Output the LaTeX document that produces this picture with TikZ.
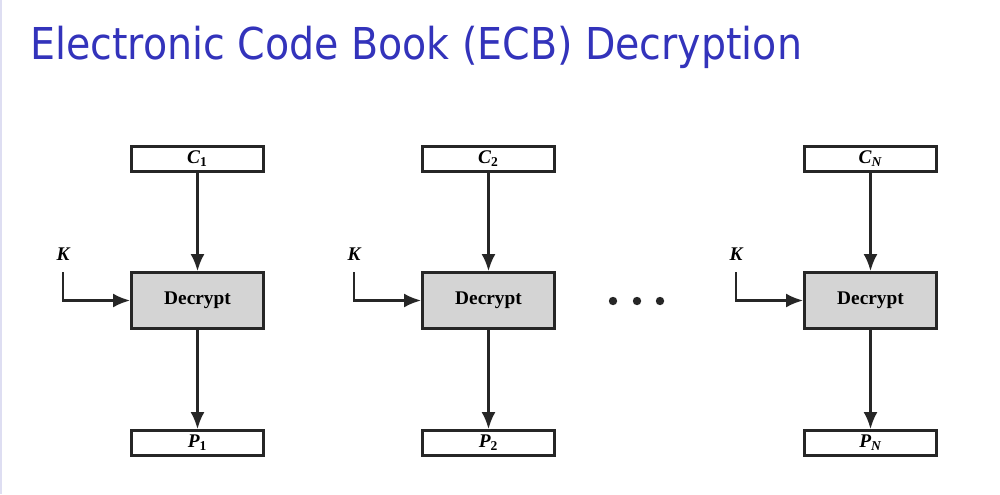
\documentclass[tikz,border=0pt]{standalone}
\usepackage{fontspec}
\setmainfont{Liberation Serif}
\newfontfamily\titlefont{DejaVu Sans Condensed}
\usetikzlibrary{arrows.meta}
\definecolor{titleblue}{RGB}{51,51,187}
\definecolor{boxgray}{RGB}{212,212,212}
\definecolor{edgelilac}{RGB}{222,222,242}
\tikzset{
	blockbox/.style={draw=black!85, line width=1.7pt, minimum width=2.64cm, minimum height=0.5cm, inner sep=0pt, font=\bfseries\itshape\fontsize{11}{11}\selectfont},
	cipherbox/.style={blockbox, fill=boxgray, minimum height=1.12cm, font=\bfseries\fontsize{11}{11}\selectfont},
	flow/.style={draw=black!85, line width=1.3pt, -{Latex[length=3.4mm,width=2.8mm]}},
	keylabel/.style={font=\bfseries\itshape\fontsize{11}{11}\selectfont}
}
\begin{document}
\begin{tikzpicture}[x=0.02cm, y=-0.02cm]
		%%%%% START %%%%%
		\useasboundingbox (0, 0) rectangle (1000, 494);
		\draw[color=edgelilac, line width=1.2pt] (0.5, 0) -- (0.5, 494);
		
		\node[anchor=west, inner sep=0pt, color=titleblue, font=\titlefont\fontsize{25}{25}\selectfont] (title) at (30, 47) {Electronic Code Book (ECB) Decryption};
		
		% first block
		\node[blockbox] (c1) at (197.5, 159) {C\textsubscript{\upshape 1}};
		\node[cipherbox] (d1) at (197.5, 300.5) {Decrypt};
		\node[blockbox] (p1) at (197.5, 443) {P\textsubscript{\upshape 1}};
		\node[keylabel] (k1) at (63, 254) {K};
		\coordinate (k1top) at (63, 272);
		\draw[flow] (c1) -- (d1);
		\draw[flow] (d1) -- (p1);
		\draw[flow] (k1top) |- (d1.west);
		
		% second block
		\node[blockbox] (c2) at (488.5, 159) {C\textsubscript{\upshape 2}};
		\node[cipherbox] (d2) at (488.5, 300.5) {Decrypt};
		\node[blockbox] (p2) at (488.5, 443) {P\textsubscript{\upshape 2}};
		\node[keylabel] (k2) at (354, 254) {K};
		\coordinate (k2top) at (354, 272);
		\draw[flow] (c2) -- (d2);
		\draw[flow] (d2) -- (p2);
		\draw[flow] (k2top) |- (d2.west);
		
		\fill[black!85] (613, 301) circle (4.2);
		\fill[black!85] (637, 301) circle (4.2);
		\fill[black!85] (660, 301) circle (4.2);
		
		% last block
		\node[blockbox] (cn) at (870.5, 159) {C\textsubscript{N}};
		\node[cipherbox] (dn) at (870.5, 300.5) {Decrypt};
		\node[blockbox] (pn) at (870.5, 443) {P\textsubscript{N}};
		\node[keylabel] (kn) at (736, 254) {K};
		\coordinate (kntop) at (736, 272);
		\draw[flow] (cn) -- (dn);
		\draw[flow] (dn) -- (pn);
		\draw[flow] (kntop) |- (dn.west);
		%%%%% END %%%%%
\end{tikzpicture}
\end{document}
